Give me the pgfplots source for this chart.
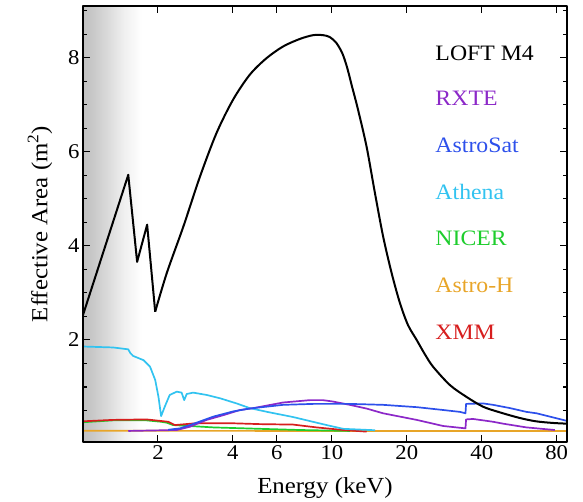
\documentclass[border=0pt]{standalone}
\usepackage{fontspec}
\setmainfont{Liberation Serif}[FakeStretch=1.08]
\usepackage{pgfplots}
\pgfplotsset{compat=1.18}
\definecolor{cRXTE}{RGB}{140,40,200}
\definecolor{cAstroSat}{RGB}{45,80,235}
\definecolor{cAthena}{RGB}{50,195,240}
\definecolor{cNICER}{RGB}{30,205,45}
\definecolor{cAstroH}{RGB}{232,165,40}
\definecolor{cXMM}{RGB}{215,30,30}
\pgfdeclarehorizontalshading{lowE}{100bp}{color(0bp)=(black!24); color(25bp)=(black!24); color(32bp)=(black!22); color(45bp)=(black!15); color(60bp)=(black!6); color(75bp)=(white); color(100bp)=(white)}
\begin{document}
\begin{tikzpicture}
\useasboundingbox (-83pt,-60pt) rectangle (500pt,442pt);
\begin{axis}[
  at={(0pt,0pt)}, anchor=south west,
  width=484pt, height=436pt, scale only axis,
  xmode=log, xmin=1, xmax=88, ymin=-0.17, ymax=9.1,
  xtick={2,4,6,10,20,40,80}, xticklabels={2,4,6,10,20,40,80},
  xminorticks=false,
  ytick={2,4,6,8}, yticklabels={2,4,6,8},
  minor ytick={0.5,1,1.5,2.5,3,3.5,4.5,5,5.5,6.5,7,7.5,8.5,9},
  tick align=inside,
  major tick length=7pt, minor tick length=4pt,
  every tick/.style={black, line width=1.1pt},
  axis line style={line width=1.3pt},
  axis on top,
  ticklabel style={font=\fontsize{21}{21}\selectfont},
  xlabel={Energy (keV)}, ylabel={Effective Area (m\textsuperscript{2})},
  every axis x label/.style={at={(axis description cs:0.5,-0.1055)}, anchor=center, font=\fontsize{23}{23}\selectfont},
  every axis y label/.style={at={(axis description cs:-0.0888,0.5)}, rotate=90, anchor=center, font=\fontsize{23}{23}\selectfont},
  line join=round,
]
% shaded low-energy band
\addplot[draw=none, shading=lowE, forget plot]
  coordinates {(1,-0.17) (1.72,-0.17) (1.72,9.1) (1,9.1) (1,-0.17)};

% Astro-H
\addplot[cAstroH, line width=1.7pt] coordinates {(1.0,0.068) (10,0.065) (88,0.065)};
% NICER
\addplot[cNICER, line width=1.7pt] coordinates {
(1.0,0.25)(1.32,0.29)(1.80,0.29)(2.06,0.26)(2.17,0.24)(2.30,0.19)(2.69,0.17)(3.34,0.14)(5.14,0.11)(7.44,0.085)(11.8,0.065)};
% XMM
\addplot[cXMM, line width=1.7pt] coordinates {
(1.0,0.27)(1.32,0.30)(1.80,0.31)(2.20,0.26)(2.34,0.19)(2.86,0.23)(3.89,0.23)(5.14,0.21)(6.99,0.20)(8.68,0.14)(11.1,0.085)(13.8,0.05)};
% Athena
\addplot[cAthena, line width=1.7pt] coordinates {
(1.0,1.86)(1.32,1.84)(1.52,1.80)(1.55,1.72)(1.59,1.66)(1.75,1.57)(1.86,1.43)(1.95,1.15)(2.01,0.79)(2.06,0.38)(2.13,0.58)(2.23,0.83)(2.38,0.90)(2.49,0.88)(2.55,0.72)(2.61,0.85)(2.77,0.88)(3.14,0.83)(3.55,0.76)(4.14,0.65)(4.68,0.55)(5.5,0.47)(6.99,0.36)(9.52,0.19)(11.1,0.11)(14.2,0.085)(14.9,0.08)};
% RXTE
\addplot[cRXTE, line width=1.7pt] coordinates {
(1.52,0.065)(2.38,0.085)(2.69,0.155)(3.14,0.30)(3.66,0.40)(4.27,0.51)(4.83,0.55)(6.37,0.67)(8.16,0.72)(9.2,0.72)(10.1,0.69)(11.8,0.62)(13.8,0.54)(16.06,0.44)(21.9,0.30)(28.0,0.17)(34.4,0.12)(34.6,0.31)(36.9,0.32)(44.4,0.26)(48.7,0.22)(60.5,0.14)(78.6,0.085)};
% AstroSat
\addplot[cAstroSat, line width=1.7pt] coordinates {
(2.2,0.09)(2.45,0.12)(2.69,0.19)(3.0,0.28)(3.34,0.37)(4.01,0.48)(4.54,0.53)(4.83,0.55)(6.37,0.62)(8.4,0.64)(11.8,0.64)(16.06,0.62)(22.0,0.57)(28,0.51)(32.7,0.47)(34.4,0.44)(34.6,0.64)(40.5,0.65)(44.4,0.62)(52,0.55)(60.5,0.47)(66.4,0.44)(87.8,0.28)};
% LOFT M4
\addplot[black, line width=2pt] coordinates {
(1.0,2.53)(1.52,5.51)(1.65,3.66)(1.81,4.45)(1.95,2.60)};
\addplot[black, line width=2pt, smooth, tension=0.5] coordinates {
(1.95,2.60)(2.17,3.42)(2.53,4.41)(2.95,5.47)(3.44,6.40)(4.01,7.11)(4.68,7.64)(5.46,7.99)(6.37,8.24)(7.44,8.40)(8.41,8.48)(9.2,8.48)(9.8,8.44)(10.4,8.32)(11.0,8.10)(11.5,7.80)(12.0,7.42)(12.7,6.92)(13.78,6.11)(14.88,5.13)(16.06,4.20)(17.36,3.43)(18.75,2.79)(20.2,2.32)(21.9,2.00)(23.6,1.70)(25.5,1.43)(29.8,1.04)(34.7,0.79)(40.5,0.58)(47.3,0.46)(56.9,0.34)(66,0.27)(77.2,0.235)(87.8,0.22)};

\begin{scope}[every node/.style={anchor=west, font=\fontsize{22}{22}\selectfont}]
\node[text=black] at (rel axis cs:0.721,0.892) {LOFT M4};
\node[text=cRXTE] at (rel axis cs:0.721,0.789) {RXTE};
\node[text=cAstroSat] at (rel axis cs:0.721,0.681) {AstroSat};
\node[text=cAthena] at (rel axis cs:0.721,0.573) {Athena};
\node[text=cNICER] at (rel axis cs:0.721,0.468) {NICER};
\node[text=cAstroH] at (rel axis cs:0.721,0.360) {Astro-H};
\node[text=cXMM] at (rel axis cs:0.721,0.252) {XMM};
\end{scope}
\end{axis}
\end{tikzpicture}
\end{document}
